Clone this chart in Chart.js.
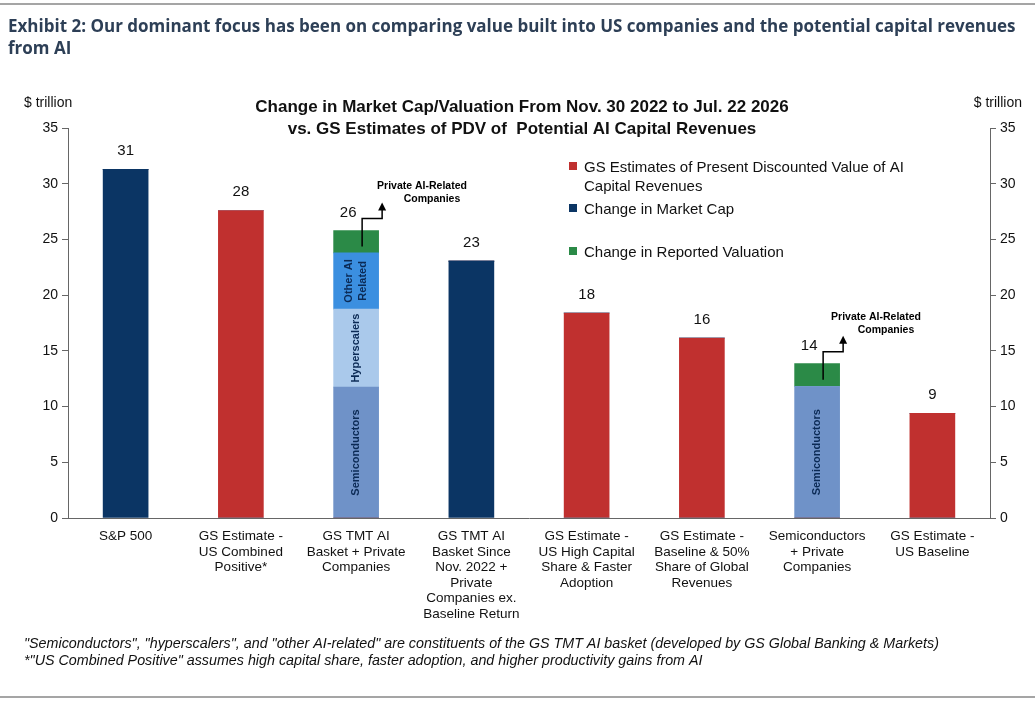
<!DOCTYPE html>
<html><head><meta charset="utf-8">
<script src="https://cdn.jsdelivr.net/npm/chart.js@4"></script>
<style>html,body{margin:0;padding:0;background:#fff}canvas{display:block}</style>
</head><body>
<div style="width:1035px;height:705px"><canvas id="c"></canvas></div>
<script>
const categories=[["S&P 500"],["GS Estimate -","US Combined","Positive*"],["GS TMT AI","Basket + Private","Companies"],["GS TMT AI","Basket Since","Nov. 2022 +","Private","Companies ex.","Baseline Return"],["GS Estimate -","US High Capital","Share & Faster","Adoption"],["GS Estimate -","Baseline & 50%","Share of Global","Revenues"],["Semiconductors","+ Private","Companies"],["GS Estimate -","US Baseline"]];
const marketCap=[31.3,0,0,23.05,0,0,0,0];
const gsEstimate=[0,27.6,0,0,18.4,16.15,0,9.4];
const semiconductors=[0,0,11.75,0,0,0,11.8,0];
const hyperscalers=[0,0,7.0,0,0,0,0,0];
const otherAI=[0,0,5.05,0,0,0,0,0];
const reportedValuation=[0,0,2.0,0,0,0,2.05,0];
const totalLabels=["31","28","26","23","18","16","14","9"];
const yTicks=[0,5,10,15,20,25,30,35];
const C={navy:'#0b3564',red:'#c0302f',semi:'#6f92c8',hyper:'#aac9eb',other:'#3b8fe0',green:'#2b8a47'};
const mk=(d,c)=>({data:d,backgroundColor:c,barThickness:45,stack:'s'});
const extras={id:'extras',afterDraw(ch){
 const g=ch.ctx,x=ch.scales.x,y=ch.scales.y;
 g.save();
 g.strokeStyle='#888';g.lineWidth=1.5;g.beginPath();g.moveTo(0,4);g.lineTo(1035,4);g.moveTo(0,697);g.lineTo(1035,697);g.stroke();
 g.fillStyle='#2d3f56';g.font='bold 17px "Open Sans"';g.textAlign='left';g.textBaseline='alphabetic';
 g.fillText('Exhibit 2: Our dominant focus has been on comparing value built into US companies and the potential capital revenues',8,32);
 g.fillText('from AI',8,54);
 g.fillStyle='#111';g.font='14px Arial';g.fillText('$ trillion',24,107);g.textAlign='right';g.fillText('$ trillion',1022,107);
 g.textAlign='center';g.font='bold 17px Arial';
 g.fillText('Change in Market Cap/Valuation From Nov. 30 2022 to Jul. 22 2026',522,112);
 g.fillText('vs. GS Estimates of PDV of  Potential AI Capital Revenues',522,134);
 g.font='15px Arial';
 const tot=categories.map((_,i)=>marketCap[i]+gsEstimate[i]+semiconductors[i]+hyperscalers[i]+otherAI[i]+reportedValuation[i]);
 tot.forEach((t,i)=>{const off=reportedValuation[i]>0?-8:0;g.fillText(totalLabels[i],x.getPixelForValue(i)+off,y.getPixelForValue(t)-14);});
 g.font='13.5px Arial';g.fillStyle='#111';
 categories.forEach((ls,i)=>ls.forEach((l,j)=>g.fillText(l,x.getPixelForValue(i),540+j*15.5)));
 g.textAlign='left';g.font='15px Arial';
 const L=[[C.red,['GS Estimates of Present Discounted Value of AI','Capital Revenues'],172],[C.navy,['Change in Market Cap'],214],[C.green,['Change in Reported Valuation'],257]];
 L.forEach(([c,t,yy])=>{g.fillStyle=c;g.fillRect(569,yy-10,8,8);g.fillStyle='#111';t.forEach((s,k)=>g.fillText(s,584,yy+k*19));});
 g.fillStyle='#0b2a55';g.font='bold 11px Arial';
 const vt=(txt,i,v0,v1,dx)=>{g.save();g.translate(x.getPixelForValue(i)+(dx||0),(y.getPixelForValue(v0)+y.getPixelForValue(v1))/2);g.rotate(-Math.PI/2);g.textAlign='center';g.textBaseline='middle';g.fillText(txt,0,0);g.restore();};
 vt('Semiconductors',2,0,11.75);vt('Hyperscalers',2,11.75,18.75);vt('Other AI',2,18.75,23.8,-7);vt('Related',2,18.75,23.8,7);
 vt('Semiconductors',6,0,11.8);
 const ann=(i,top,tx,ty)=>{const px=x.getPixelForValue(i)+6,py=y.getPixelForValue(top);g.strokeStyle='#000';g.fillStyle='#000';g.lineWidth=1.5;
  g.beginPath();g.moveTo(px,py+16);g.lineTo(px,py-12);g.lineTo(px+20,py-12);g.lineTo(px+20,py-22);g.stroke();
  g.beginPath();g.moveTo(px+16,py-20);g.lineTo(px+24,py-20);g.lineTo(px+20,py-28);g.fill();
  g.font='bold 10.5px Arial';g.textAlign='center';g.fillText('Private AI-Related',tx,ty);g.fillText('Companies',tx+10,ty+13);};
 ann(2,25.8,422,189);ann(6,13.85,876,320);
 g.fillStyle='#111';g.font='italic 14.3px Arial';g.textAlign='left';
 g.fillText('"Semiconductors", "hyperscalers", and "other AI-related" are constituents of the GS TMT AI basket (developed by GS Global Banking & Markets)',24,648);
 g.fillText('*"US Combined Positive" assumes high capital share, faster adoption, and higher productivity gains from AI',24,665);
 g.restore();
}};
new Chart(document.getElementById('c'),{type:'bar',
 data:{labels:categories.map(c=>c.join(' ')),datasets:[mk(marketCap,C.navy),mk(gsEstimate,C.red),mk(semiconductors,C.semi),mk(hyperscalers,C.hyper),mk(otherAI,C.other),mk(reportedValuation,C.green)]},
 options:{responsive:true,maintainAspectRatio:false,animation:false,
  layout:{padding:{top:128,left:8,right:5,bottom:0}},
  plugins:{legend:{display:false},tooltip:{enabled:false}},
  scales:{
   x:{stacked:true,grid:{display:false},border:{color:'#666'},ticks:{display:false},afterFit(s){s.height=187;}},
   y:{stacked:true,min:0,max:35,position:'left',afterBuildTicks(s){s.ticks=yTicks.map(v=>({value:v}));},grid:{drawOnChartArea:false,tickLength:6,color:'#666'},border:{color:'#666'},ticks:{color:'#111',font:{size:14,family:'Arial'},padding:4},afterFit(s){s.width=60;}},
   y2:{min:0,max:35,position:'right',afterBuildTicks(s){s.ticks=yTicks.map(v=>({value:v}));},grid:{drawOnChartArea:false,tickLength:6,color:'#666'},border:{color:'#666'},ticks:{color:'#111',font:{size:14,family:'Arial'},padding:4},afterFit(s){s.width=40;}}
  }}
 ,plugins:[extras]});
</script></body></html>
